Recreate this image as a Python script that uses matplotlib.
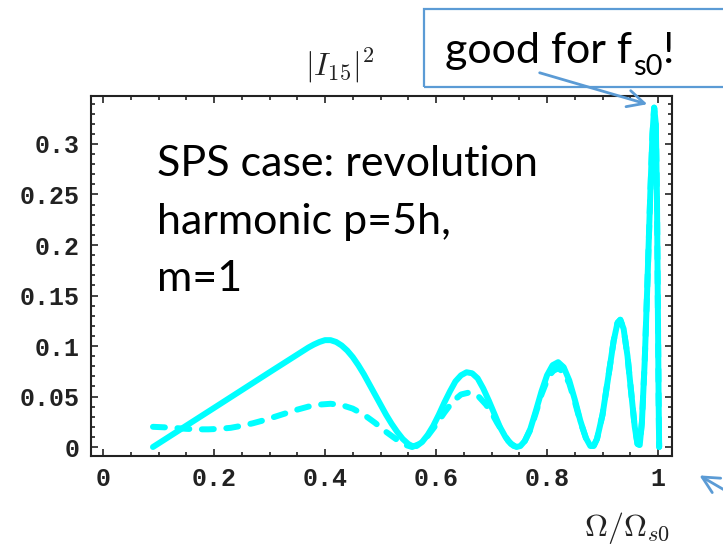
import matplotlib
matplotlib.use('Agg')
import matplotlib.pyplot as plt
from matplotlib.patches import Rectangle
from matplotlib.ticker import MultipleLocator

# shared tail of both curves (they coincide above ~0.88)
tail_x = [0.884, 0.89, 0.90, 0.91, 0.92, 0.927, 0.932, 0.938, 0.945, 0.952,
          0.958, 0.963, 0.967, 0.971, 0.976, 0.981, 0.986, 0.990, 0.993,
          0.996, 0.998, 0.9995, 1.001, 1.002]
tail_y = [0.001, 0.008, 0.032, 0.068, 0.105, 0.123, 0.126, 0.117, 0.090,
          0.052, 0.020, 0.003, 0.002, 0.025, 0.085, 0.165, 0.250, 0.310,
          0.336, 0.320, 0.250, 0.150, 0.050, 0.0]

# solid curve |I_15|^2 vs Omega/Omega_s0
solid_x = [0.09, 0.20, 0.30, 0.36, 0.37, 0.38, 0.39, 0.40, 0.41, 0.42, 0.43,
           0.44, 0.45, 0.46, 0.47, 0.48, 0.49, 0.50, 0.51, 0.52, 0.53, 0.54,
           0.55, 0.557, 0.565, 0.575, 0.585, 0.595, 0.605, 0.615, 0.625,
           0.635, 0.645, 0.655, 0.665, 0.675, 0.685, 0.695, 0.705, 0.715,
           0.725, 0.735, 0.745, 0.752, 0.76, 0.77, 0.78, 0.79, 0.80, 0.81,
           0.82, 0.83, 0.84, 0.85, 0.86, 0.87, 0.878] + tail_x
solid_y = [0.0, 0.0387, 0.074, 0.095, 0.0985, 0.1015, 0.104, 0.1058, 0.1058,
           0.104, 0.1005, 0.0955, 0.089, 0.081, 0.072, 0.062, 0.052, 0.042,
           0.032, 0.023, 0.015, 0.008, 0.003, 0.001, 0.001, 0.005, 0.012,
           0.021, 0.032, 0.044, 0.055, 0.065, 0.071, 0.074, 0.073, 0.068,
           0.058, 0.046, 0.033, 0.020, 0.010, 0.003, 0.0, 0.001, 0.006,
           0.018, 0.036, 0.055, 0.071, 0.081, 0.084, 0.079, 0.066, 0.047,
           0.026, 0.009, 0.001] + tail_y

# dashed curve
dash_x = [0.09, 0.11, 0.13, 0.15, 0.17, 0.19, 0.21, 0.23, 0.25, 0.27, 0.29,
          0.31, 0.33, 0.35, 0.37, 0.39, 0.41, 0.43, 0.45, 0.47, 0.49, 0.51,
          0.53, 0.545, 0.557, 0.57, 0.585, 0.60, 0.615, 0.63, 0.645, 0.66,
          0.675, 0.69, 0.70, 0.71, 0.72, 0.73, 0.74, 0.748, 0.76, 0.77,
          0.78, 0.79, 0.80, 0.81, 0.82, 0.83, 0.84, 0.85, 0.86, 0.87,
          0.878] + tail_x
dash_y = [0.020, 0.0195, 0.0188, 0.018, 0.0175, 0.0175, 0.018, 0.019, 0.021,
          0.0235, 0.0265, 0.030, 0.0335, 0.037, 0.040, 0.042, 0.0428,
          0.0415, 0.038, 0.032, 0.024, 0.015, 0.007, 0.002, 0.0, 0.003,
          0.011, 0.022, 0.034, 0.045, 0.052, 0.054, 0.051, 0.042, 0.034,
          0.024, 0.015, 0.006, 0.001, 0.0, 0.006, 0.017, 0.034, 0.052,
          0.066, 0.075, 0.078, 0.074, 0.063, 0.045, 0.025, 0.009,
          0.001] + tail_y

x_ticks = [0, 0.2, 0.4, 0.6, 0.8, 1]
x_labels = ['0', '0.2', '0.4', '0.6', '0.8', '1']
y_ticks = [0, 0.05, 0.1, 0.15, 0.2, 0.25, 0.3]
y_labels = ['0', '0.05', '0.1', '0.15', '0.2', '0.25', '0.3']

cyan = '#00FFFF'
blue = '#5B9BD5'

fig = plt.figure(figsize=(7.23, 5.49), dpi=100)
ax = fig.add_axes([0.1259, 0.1694, 0.8036, 0.6557])

ax.plot(solid_x, solid_y, color=cyan, lw=4.3, solid_capstyle='round',
        solid_joinstyle='round')
ax.plot(dash_x, dash_y, color=cyan, lw=4.3, ls=(0, (2.0, 2.1)),
        dash_capstyle='round', dash_joinstyle='round')

ax.set_xlim(-0.0216, 1.0252)
ax.set_ylim(-0.0089, 0.3475)
ax.set_xticks(x_ticks)
ax.set_xticklabels(x_labels)
ax.set_yticks(y_ticks)
ax.set_yticklabels(y_labels)
ax.xaxis.set_minor_locator(MultipleLocator(0.05))
ax.yaxis.set_minor_locator(MultipleLocator(0.01))
ax.tick_params(which='both', direction='in', top=True, right=True,
               colors='#222222', width=1.2)
ax.tick_params(which='major', length=5, pad=8)
ax.tick_params(which='minor', length=3)
for lab in ax.get_xticklabels() + ax.get_yticklabels():
    lab.set_fontfamily('Liberation Mono')
    lab.set_fontweight('bold')
    lab.set_fontsize(18)
for sp in ax.spines.values():
    sp.set_linewidth(1.5)
    sp.set_color('#222222')

fig.text(340 / 723, 1 - 66 / 549, r'$|I_{15}|^2$', fontsize=23,
         math_fontfamily='cm', ha='center', va='center', color='#222222')
fig.text(627 / 723, 1 - 528 / 549, r'$\Omega/\Omega_{s0}$', fontsize=23,
         math_fontfamily='cm', ha='center', va='center', color='#222222')

fig.text(157 / 723, 1 - 145 / 549, 'SPS case: revolution\nharmonic p=5h,\nm=1',
         family='Lato', fontsize=31, va='top', ha='left',
         linespacing=1.63)

# callout box
fig.add_artist(Rectangle((424 / 723, 1 - 87 / 549), 0.5, 78 / 549,
                         transform=fig.transFigure, fill=False,
                         ec=blue, lw=1.6))
t1 = fig.text(445 / 723, 1 - 63 / 549, 'good for f', family='Lato',
              fontsize=31, va='baseline', ha='left')
fig.canvas.draw()
x_end = t1.get_window_extent().x1 / 723
t2 = fig.text(x_end + 1 / 723, 1 - 75 / 549, 's0', family='Lato',
              fontsize=21, va='baseline', ha='left')
fig.canvas.draw()
x_end = t2.get_window_extent().x1 / 723
fig.text(x_end + 1 / 723, 1 - 63 / 549, '!', family='Lato', fontsize=31,
         va='baseline', ha='left')

fig.add_artist(plt.Annotation('', xy=(650 / 723, 1 - 105 / 549),
                              xytext=(537 / 723, 1 - 72 / 549),
                              xycoords='figure fraction',
                              textcoords='figure fraction',
                              arrowprops=dict(arrowstyle='->', color=blue,
                                              lw=2, mutation_scale=30)))
fig.add_artist(plt.Annotation('', xy=(697 / 723, 1 - 474 / 549),
                              xytext=(750 / 723, 1 - 505 / 549),
                              xycoords='figure fraction',
                              textcoords='figure fraction',
                              arrowprops=dict(arrowstyle='->', color=blue,
                                              lw=2, mutation_scale=30)))

fig.savefig('out.png', dpi=100)
